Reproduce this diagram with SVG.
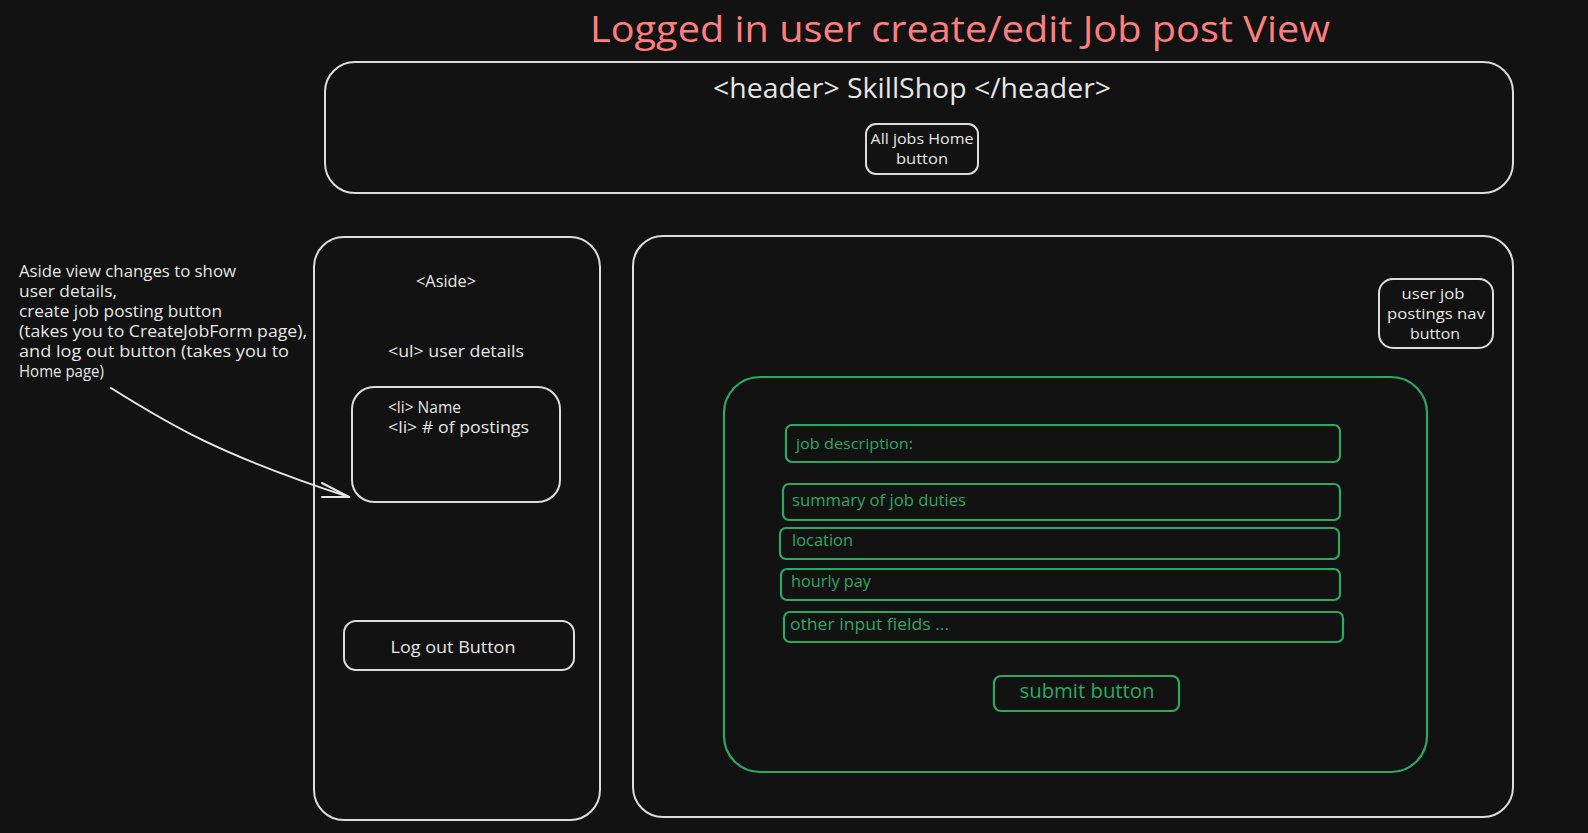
<svg xmlns="http://www.w3.org/2000/svg" width="1588" height="833" viewBox="0 0 1588 833">
  <defs>
    <style>
      .box { fill: none; stroke: #dcdcdc; stroke-width: 2; stroke-linecap: round; stroke-linejoin: round; }
      .gbox { fill: none; stroke: #2ea862; stroke-width: 2.2; stroke-linecap: round; stroke-linejoin: round; }
      .t { font-family: "Open Sans", "Liberation Sans", sans-serif; fill: #e6e6e6; }
      .g { font-family: "Open Sans", "Liberation Sans", sans-serif; fill: #2ea862; }
      .title { font-family: "Open Sans", "Liberation Sans", sans-serif; fill: #ff7f7f; }
      .wire { fill: none; stroke: #e6e6e6; stroke-width: 2; stroke-linecap: round; stroke-linejoin: round; }
    </style>
  </defs>

  <rect width="1588" height="833" fill="#121212"/>

  <!-- page title -->
  <g id="title">
    <text class="title" x="960" y="42" font-size="36" text-anchor="middle" textLength="740" lengthAdjust="spacingAndGlyphs">Logged in user create/edit Job post View</text>
  </g>

  <!-- header bar -->
  <g id="header">
    <rect class="box" x="325" y="62" width="1188" height="131" rx="30"/>
    <text class="t" x="912" y="98" font-size="28" text-anchor="middle" textLength="398" lengthAdjust="spacingAndGlyphs">&lt;header&gt; SkillShop &lt;/header&gt;</text>
  </g>

  <g id="home-button">
    <rect class="box" x="866" y="124" width="112" height="50" rx="10"/>
    <text class="t" x="922" y="144" font-size="15" text-anchor="middle" textLength="103" lengthAdjust="spacingAndGlyphs">All jobs Home</text>
    <text class="t" x="922" y="164" font-size="15" text-anchor="middle" textLength="52" lengthAdjust="spacingAndGlyphs">button</text>
  </g>

  <!-- note on the left -->
  <g id="aside-note">
    <text class="t" x="19" y="277" font-size="16" textLength="217" lengthAdjust="spacingAndGlyphs">Aside view changes to show</text>
    <text class="t" x="19" y="297" font-size="16" textLength="98" lengthAdjust="spacingAndGlyphs">user details,</text>
    <text class="t" x="19" y="317" font-size="16" textLength="203" lengthAdjust="spacingAndGlyphs">create job posting button</text>
    <text class="t" x="19" y="337" font-size="16" textLength="288" lengthAdjust="spacingAndGlyphs">(takes you to CreateJobForm page),</text>
    <text class="t" x="19" y="357" font-size="16" textLength="270" lengthAdjust="spacingAndGlyphs">and log out button (takes you to</text>
    <text class="t" x="19" y="377" font-size="16" textLength="85" lengthAdjust="spacingAndGlyphs">Home page)</text>
  </g>

  <!-- aside column -->
  <g id="aside">
    <rect class="box" x="314" y="237" width="286" height="583" rx="30"/>
    <text class="t" x="446" y="287" font-size="16" text-anchor="middle" textLength="60" lengthAdjust="spacingAndGlyphs">&lt;Aside&gt;</text>
    <text class="t" x="456" y="357" font-size="17" text-anchor="middle" textLength="136" lengthAdjust="spacingAndGlyphs">&lt;ul&gt; user details</text>
  </g>

  <g id="user-details">
    <rect class="box" x="352" y="387" width="208" height="115" rx="22"/>
    <text class="t" x="388" y="413" font-size="16" textLength="73" lengthAdjust="spacingAndGlyphs">&lt;li&gt; Name</text>
    <text class="t" x="388" y="433" font-size="16" textLength="141" lengthAdjust="spacingAndGlyphs">&lt;li&gt; # of postings</text>
  </g>

  <g id="logout-button">
    <rect class="box" x="344" y="621" width="230" height="49" rx="12"/>
    <text class="t" x="453" y="653" font-size="17" text-anchor="middle" textLength="125" lengthAdjust="spacingAndGlyphs">Log out Button</text>
  </g>

  <!-- main content area -->
  <g id="main">
    <rect class="box" x="633" y="236" width="880" height="581" rx="30"/>
  </g>

  <g id="postings-nav">
    <rect class="box" x="1379" y="279" width="114" height="69" rx="14"/>
    <text class="t" x="1433" y="299" font-size="15" text-anchor="middle" textLength="63" lengthAdjust="spacingAndGlyphs">user job</text>
    <text class="t" x="1436" y="319" font-size="15" text-anchor="middle" textLength="98" lengthAdjust="spacingAndGlyphs">postings nav</text>
    <text class="t" x="1435" y="339" font-size="15" text-anchor="middle" textLength="50" lengthAdjust="spacingAndGlyphs">button</text>
  </g>

  <!-- job post form -->
  <g id="job-form">
    <rect class="gbox" x="724" y="377" width="703" height="395" rx="36"/>
  </g>

  <g id="field-description">
    <rect class="gbox" x="786" y="425" width="554" height="37" rx="6"/>
    <text class="g" x="796" y="449" font-size="15" textLength="117" lengthAdjust="spacingAndGlyphs">job description:</text>
  </g>

  <g id="field-summary">
    <rect class="gbox" x="783" y="484" width="557" height="36" rx="6"/>
    <text class="g" x="792" y="506" font-size="16" textLength="174" lengthAdjust="spacingAndGlyphs">summary of job duties</text>
  </g>

  <g id="field-location">
    <rect class="gbox" x="780" y="528" width="559" height="31" rx="6"/>
    <text class="g" x="792" y="546" font-size="16" textLength="61" lengthAdjust="spacingAndGlyphs">location</text>
  </g>

  <g id="field-pay">
    <rect class="gbox" x="781" y="569" width="559" height="31" rx="6"/>
    <text class="g" x="791" y="587" font-size="16" textLength="80" lengthAdjust="spacingAndGlyphs">hourly pay</text>
  </g>

  <g id="field-other">
    <rect class="gbox" x="784" y="612" width="559" height="30" rx="6"/>
    <text class="g" x="790" y="630" font-size="16" textLength="159" lengthAdjust="spacingAndGlyphs">other input fields ...</text>
  </g>

  <g id="submit-button">
    <rect class="gbox" x="994" y="676" width="185" height="35" rx="7"/>
    <text class="g" x="1087" y="698" font-size="20" text-anchor="middle" textLength="135" lengthAdjust="spacingAndGlyphs">submit button</text>
  </g>

  <!-- connectors -->
  <g id="connectors">
    <path class="wire" d="M111 388 C 170 425, 220 455, 349 497"/>
    <path class="wire" d="M322 483 L349 497 L322 497"/>
  </g>
</svg>
